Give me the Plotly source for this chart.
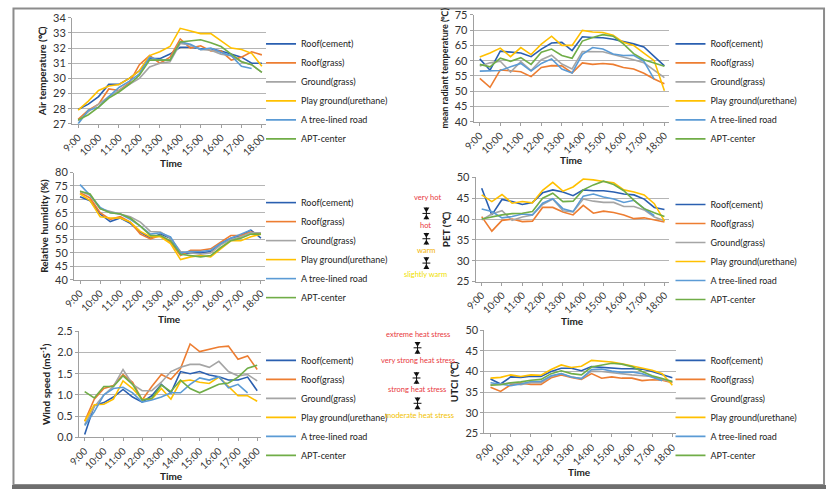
import plotly.graph_objects as go

W, H = 827, 495

times = ["9:00", "9:30", "10:00", "10:30", "11:00", "11:30", "12:00", "12:30", "13:00", "13:30",
         "14:00", "14:30", "15:00", "15:30", "16:00", "16:30", "17:00", "17:30", "18:00"]
hour_labels = times[::2]

series_names = ["Roof(cement)", "Roof(grass)", "Ground(grass)", "Play ground(urethane)",
                "A tree-lined road", "APT-center"]
colors = ["#2A5FB0", "#ED7D31", "#A5A5A5", "#FFC000", "#5B9BD5", "#70AD47"]

# Air temperature (°C), one list per site in series_names order
air_temperature = [
    [27.95, 28.3, 28.8, 29.6, 29.6, 30.0, 30.5, 31.3, 31.3, 31.6, 32.05, 32.05, 31.95, 31.95, 31.8, 31.6, 31.4, 31.0, 31.0],
    [27.3, 27.9, 28.3, 29.3, 29.2, 29.7, 30.9, 31.5, 31.0, 31.4, 32.6, 32.0, 32.15, 31.8, 31.8, 31.2, 31.4, 31.75, 31.55],
    [27.2, 27.8, 28.3, 28.8, 29.2, 29.6, 30.0, 30.75, 31.0, 31.1, 32.3, 32.2, 31.9, 31.85, 31.6, 31.5, 31.1, 30.9, 30.4],
    [27.9, 28.5, 29.2, 29.5, 29.6, 30.0, 30.5, 31.5, 31.75, 32.1, 33.3, 33.15, 32.95, 32.95, 32.5, 32.0, 31.9, 31.65, 30.8],
    [27.0, 27.9, 28.1, 28.8, 29.4, 29.8, 30.3, 31.4, 31.2, 31.2, 32.4, 32.25, 31.9, 32.0, 31.7, 31.5, 30.8, 30.65, None],
    [27.25, 27.6, 28.1, 28.7, 29.1, 29.6, 30.2, 31.2, 31.2, 31.2, 32.4, 32.45, 32.55, 32.35, 32.1, 31.6, 31.1, 30.9, 30.4],
]

# Mean radiant temperature (°C)
mean_radiant_temperature = [
    [60.6, 56.9, 63.1, 62.7, 62.5, 61.3, 63.8, 65.8, 66.0, 63.3, 67.8, 67.6, 67.5, 67.0, 66.3, 65.5, 64.5, 61.5, 58.3],
    [54.2, 51.3, 57.0, 56.7, 56.4, 54.8, 57.8, 58.4, 58.3, 56.0, 59.3, 58.8, 59.1, 58.8, 57.8, 57.3, 55.9, 54.0, 52.5],
    [58.3, 59.3, 59.8, 56.3, 59.7, 56.8, 60.3, 61.8, 58.9, 57.3, 63.0, 62.9, 62.9, 62.0, 61.2, 60.3, 59.3, 57.0, 54.5],
    [61.2, 62.5, 64.1, 61.3, 64.3, 62.0, 65.4, 68.0, 65.0, 65.0, 69.9, 69.4, 69.2, 68.3, 66.0, 65.0, 62.5, 60.0, 50.2],
    [56.6, 56.8, 56.8, 58.0, 59.1, 56.6, 59.1, 60.6, 57.3, 56.0, 62.1, 64.3, 63.8, 62.2, 61.7, 61.8, 59.8, 54.0, None],
    [58.8, 58.0, 60.8, 59.8, 61.0, 58.8, 62.8, 63.8, 61.7, 60.8, 66.4, 67.6, 68.5, 68.0, 65.5, 62.3, 60.3, 59.3, 58.2],
]

# Relative humidity (%)
relative_humidity = [
    [71.0, 69.5, 64.5, 61.7, 63.0, 61.0, 57.8, 55.5, 57.0, 55.5, 49.5, 50.0, 50.0, 50.5, 53.5, 55.5, 56.5, 58.5, 55.5],
    [72.5, 70.5, 65.0, 62.5, 63.5, 61.5, 57.0, 55.2, 56.5, 54.0, 49.0, 51.0, 51.0, 51.5, 54.0, 56.5, 56.5, 57.8, 57.0],
    [73.0, 71.5, 66.5, 65.5, 64.5, 63.5, 61.5, 58.0, 57.8, 55.5, 50.5, 50.0, 49.5, 50.0, 53.0, 55.0, 56.0, 57.5, 57.5],
    [72.0, 69.5, 63.5, 63.0, 63.0, 61.5, 58.0, 56.0, 56.0, 53.5, 47.5, 48.5, 49.0, 48.5, 51.5, 54.5, 54.5, 56.0, 57.0],
    [75.5, 71.5, 67.0, 65.0, 64.5, 62.5, 60.0, 57.0, 57.5, 56.0, 50.0, 50.5, 50.5, 51.0, 53.5, 55.5, 57.0, 58.5, None],
    [73.0, 72.0, 66.5, 65.0, 64.5, 63.0, 60.0, 56.5, 56.5, 54.5, 49.5, 49.0, 48.5, 49.0, 52.0, 54.5, 55.5, 57.0, 57.0],
]

# PET (°C)
pet = [
    [47.4, 41.0, 44.7, 44.2, 43.5, 44.0, 46.3, 47.0, 46.5, 45.6, 47.0, 46.8, 46.8, 46.5, 46.0, 45.8, 44.8, 42.8, 42.3],
    [40.6, 37.1, 39.7, 40.0, 39.4, 39.5, 42.8, 42.8, 41.7, 41.0, 43.3, 41.4, 41.9, 41.6, 41.0, 40.1, 40.3, 39.8, 39.3],
    [39.8, 41.2, 42.0, 39.7, 40.5, 41.0, 43.5, 44.8, 42.0, 41.7, 44.8, 44.3, 44.0, 44.0, 43.0, 43.0, 42.2, 40.5, 39.6],
    [45.8, 44.2, 45.9, 43.8, 44.2, 43.9, 46.9, 48.8, 46.7, 47.7, 49.6, 49.4, 49.0, 48.7, 47.0, 46.5, 45.8, 43.7, 39.5],
    [42.4, 41.8, 40.3, 40.6, 41.2, 41.0, 43.8, 44.9, 42.5, 41.8, 45.5, 46.0, 45.3, 44.8, 44.0, 44.5, 42.5, 40.8, None],
    [40.0, 40.5, 41.0, 41.3, 41.4, 41.8, 45.0, 46.2, 44.2, 44.3, 47.0, 48.2, 49.1, 48.3, 46.8, 44.5, 42.5, 41.5, 40.6],
]

# Wind speed (m/s)
wind_speed = [
    [0.07, 0.75, 0.82, 0.95, 1.13, 0.95, 0.83, 0.98, 1.25, 1.05, 1.55, 1.50, 1.55, 1.47, 1.43, 1.35, 1.35, 1.42, 1.10],
    [0.38, 0.90, 1.15, 1.22, 1.48, 1.30, 0.88, 1.20, 1.48, 1.37, 1.62, 2.20, 2.02, 2.07, 2.13, 2.15, 1.84, 1.92, 1.60],
    [0.30, 0.72, 1.00, 1.20, 1.60, 1.25, 1.10, 1.10, 1.30, 1.55, 1.65, 1.72, 1.72, 1.65, 1.79, 1.55, 1.45, 1.48, 1.33],
    [0.38, 0.77, 0.78, 0.90, 1.33, 1.15, 0.90, 0.90, 1.15, 0.90, 1.32, 1.35, 1.30, 1.27, 1.42, 1.20, 0.98, 0.98, 0.85],
    [0.28, 0.60, 1.00, 1.15, 1.18, 1.05, 0.83, 0.88, 0.95, 1.05, 1.05, 1.25, 1.40, 1.35, 1.43, 1.17, 1.25, 1.05, None],
    [1.08, 0.93, 1.20, 1.20, 1.45, 1.25, 0.88, 0.92, 1.23, 1.08, 1.35, 1.15, 1.05, 1.15, 1.25, 1.28, 1.42, 1.63, 1.70],
]

# UTCI (°C)
utci = [
    [38.2, 37.0, 38.7, 38.6, 38.9, 38.8, 40.0, 40.8, 40.8, 40.2, 41.2, 41.0, 40.9, 40.7, 40.7, 40.6, 40.0, 39.2, 38.5],
    [36.2, 35.2, 36.8, 37.2, 36.9, 36.9, 38.5, 39.2, 38.6, 38.1, 39.5, 38.4, 38.7, 38.4, 38.4, 37.8, 38.0, 37.9, 37.3],
    [36.8, 37.0, 37.2, 36.8, 37.3, 37.3, 38.8, 39.5, 38.7, 38.3, 40.1, 40.0, 39.7, 39.5, 39.2, 39.0, 38.8, 38.1, 37.5],
    [38.4, 38.6, 39.2, 38.8, 39.2, 39.1, 40.5, 41.6, 41.0, 41.3, 42.7, 42.5, 42.3, 41.9, 41.4, 40.9, 40.3, 39.5, 36.7],
    [37.3, 36.9, 36.6, 37.0, 37.6, 37.6, 39.0, 39.5, 38.7, 38.3, 40.5, 40.6, 40.1, 39.8, 39.9, 39.5, 38.7, 37.8, None],
    [36.7, 36.8, 37.3, 37.5, 37.9, 38.1, 39.5, 40.2, 39.5, 39.2, 41.1, 41.6, 42.0, 41.8, 41.2, 40.0, 39.0, 38.3, 37.6],
]

x_title = "Time"
y_titles = ["<b>Air temperature (℃)</b>", "<b>mean radiant temperature (℃)</b>",
            "<b>Relative humidity (%)</b>", "<b>PET (℃)</b>",
            "<b>Wind speed (mS<sup>-1</sup>)</b>", "<b>UTCI (℃)</b>"]
y_title_sizes = [10, 9, 10, 10, 10, 10]
y_ranges = [(27, 34, 1), (40, 75, 5), (40, 80, 5), (25, 50, 5), (0, 2.5, 0.5), (25, 50, 5)]
datasets = [air_temperature, mean_radiant_temperature, relative_humidity, pet, wind_speed, utci]

# panel boxes in pixels: left, right, top, bottom
panels = [(61, 258, 11, 120), (469, 667, 8, 118),
          (63, 257, 170, 280), (471, 667, 175, 282),
          (68, 253, 333, 442), (480, 675, 332, 438)]
# legend: text-start x, first item y (pixels)
legend_pos = [(295, 43), (711, 43), (295, 206), (711, 208), (295, 368), (711, 368)]
# "Time" axis title centres (pixels)
time_pos = [(162, 160), (568, 157), (160, 320), (569, 322), (162, 482), (577, 478)]

FONT = "Lato, 'Open Sans', sans-serif"

def px_x(v):
    return v / W

def px_y(v):
    return 1 - v / H

fig = go.Figure()
layout = dict(
    width=W, height=H, margin=dict(l=0, r=0, t=0, b=0),
    paper_bgcolor="white", plot_bgcolor="white",
    font=dict(family=FONT, size=10, color="#222222"),
    showlegend=True,
)
annotations = []

for p, (data, (l, r, t, b)) in enumerate(zip(datasets, panels)):
    idx = p + 1
    xa = "x" if idx == 1 else f"x{idx}"
    ya = "y" if idx == 1 else f"y{idx}"
    lg = "legend" if idx == 1 else f"legend{idx}"
    for s, name in enumerate(series_names):
        fig.add_trace(go.Scatter(
            x=times, y=data[s], mode="lines", name=name,
            line=dict(color=colors[s], width=1.6),
            xaxis=xa, yaxis=ya, legend=lg, connectgaps=False,
        ))
    lo, hi, step = y_ranges[p]
    layout[f"xaxis{idx}" if idx > 1 else "xaxis"] = dict(
        domain=[px_x(l), px_x(r)], anchor=ya, type="category",
        categoryorder="array", categoryarray=times,
        range=[-0.6, 18.4], tickmode="array", tickvals=hour_labels, ticktext=hour_labels,
        tickangle=-45, tickfont=dict(size=10, color="#333333", family=FONT),
        showgrid=False, showline=True, linecolor="#A0A0A0", linewidth=1,
        ticks="outside", ticklen=3, tickcolor="#A0A0A0",
        zeroline=False, fixedrange=True,
    )
    layout[f"yaxis{idx}" if idx > 1 else "yaxis"] = dict(
        domain=[px_y(b), px_y(t)], anchor=xa, range=[lo, hi], dtick=step, tick0=lo,
        tickformat=".1f" if step < 1 else "d",
        tickfont=dict(size=11, color="#333333", family=FONT),
        showgrid=True, gridcolor="#B5B5B5", gridwidth=1,
        showline=True, linecolor="#A0A0A0", linewidth=1,
        ticks="outside", ticklen=3, tickcolor="#A0A0A0",
        title=dict(text=y_titles[p], font=dict(size=y_title_sizes[p], color="#222222", family=FONT), standoff=4),
        zeroline=False, fixedrange=True,
    )
    tx, ty = legend_pos[p]
    layout[lg] = dict(
        x=px_x(tx - 42), y=px_y(ty - 20), xanchor="left", yanchor="top",
        bgcolor="rgba(0,0,0,0)", borderwidth=0,
        font=dict(size=9, color="#222222", family=FONT),
        tracegroupgap=0, itemclick=False, itemdoubleclick=False,
    )
    cx, cy = time_pos[p]
    annotations.append(dict(text=f"<b>{x_title}</b>", x=px_x(cx), y=px_y(cy), xref="paper", yref="paper",
                            showarrow=False, font=dict(size=10, color="#222222", family=FONT),
                            xanchor="center", yanchor="middle"))

# comfort-scale notes beside PET and UTCI
RED = "#E8383D"
notes = [
    ("very hot", 422, 196, RED), ("hot", 420, 224, RED), ("warm", 421, 250, "#F2B200"),
    ("slightly warm", 420, 275, "#EFE000"),
    ("extreme heat stress", 412, 336, RED), ("very strong heat stress", 412, 363, RED),
    ("strong heat stress", 411, 393, RED), ("moderate heat stress", 414, 420, "#F2C200"),
]
for text, x, y, c in notes:
    annotations.append(dict(text=text, x=px_x(x), y=px_y(y), xref="paper", yref="paper",
                            showarrow=False, font=dict(size=7.5, color=c, family=FONT),
                            xanchor="center", yanchor="middle"))
layout["annotations"] = annotations

shapes = []
symbols = [(421, 212), (421, 238), (421, 263), (412, 350), (411, 381), (412, 407)]
for cx, cy in symbols:
    shapes.append(dict(type="path", xref="paper", yref="paper",
                       path=f"M {px_x(cx-3)},{px_y(cy-6)} L {px_x(cx+3)},{px_y(cy-6)} L {px_x(cx)},{px_y(cy-1)} Z",
                       fillcolor="#111111", line=dict(width=0)))
    shapes.append(dict(type="path", xref="paper", yref="paper",
                       path=f"M {px_x(cx-3)},{px_y(cy+6)} L {px_x(cx+3)},{px_y(cy+6)} L {px_x(cx)},{px_y(cy+1)} Z",
                       fillcolor="#111111", line=dict(width=0)))
    shapes.append(dict(type="line", xref="paper", yref="paper",
                       x0=px_x(cx-4), x1=px_x(cx+4), y0=px_y(cy), y1=px_y(cy),
                       line=dict(color="#111111", width=1)))
    shapes.append(dict(type="line", xref="paper", yref="paper",
                       x0=px_x(cx), x1=px_x(cx), y0=px_y(cy-6), y1=px_y(cy+6),
                       line=dict(color="#111111", width=1)))
# outer frame
shapes.append(dict(type="rect", xref="paper", yref="paper", x0=px_x(1.5), x1=px_x(825), y0=px_y(491), y1=px_y(1.5),
                   line=dict(color="#8C8C8C", width=2), fillcolor="rgba(0,0,0,0)"))
shapes.append(dict(type="rect", xref="paper", yref="paper", x0=0, x1=1, y0=0, y1=px_y(491),
                   line=dict(width=0), fillcolor="#6E6E6E"))
layout["shapes"] = shapes

fig.update_layout(**layout)
fig.write_html("out.html")
